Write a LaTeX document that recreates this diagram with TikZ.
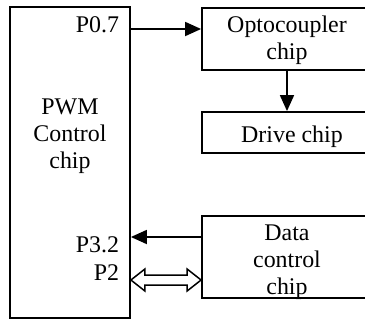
\documentclass[tikz,border=0pt]{standalone}
\usepackage{fontspec}
\setmainfont{Liberation Serif}
\usetikzlibrary{arrows.meta,calc}

\begin{document}
\begin{tikzpicture}[x=1bp,y=-1bp,line width=1.8bp,
  >={Triangle[length=16bp,width=14bp]},
  chipbox/.style={draw,rectangle,inner sep=0pt},
  txt/.style={align=center,inner sep=0pt,font=\fontsize{24}{27}\selectfont}]
\clip (0,0) rectangle (365,320);
% chip boxes
\node[chipbox,minimum width=120bp,minimum height=311bp] (ctrl) at (70,162.5) {};
\node[chipbox,minimum width=170bp,minimum height=62bp] (opto) at (287,39) {};
\node[chipbox,minimum width=170bp,minimum height=41bp] (drive) at (287,132.5) {};
\node[chipbox,minimum width=170bp,minimum height=82bp] (data) at (287,257) {};
% texts
\node[txt] (ctrltext) at (70,136) {PWM\\Control\\chip};
\node[txt] (optotext) at (287,40) {Optocoupler\\chip};
\node[txt] (drivetext) at (292,137) {Drive chip};
\node[txt] (datatext) at (287,262) {Data\\control\\chip};
\node[txt,anchor=base east] (p07) at (120,32) {P0.7};
\node[txt,anchor=base east] (p32) at (120,252) {P3.2};
\node[txt,anchor=base east] (p2) at (120,280) {P2};
% signal arrows
\draw[->] (ctrl.east |- 0,29) -- (opto.west |- 0,29);
\draw[->] (opto.south) -- (drive.north);
\draw[->] (data.west |- 0,237) -- (ctrl.east |- 0,237);
% bus arrow P2
\coordinate (busl) at (ctrl.east |- 0,280);
\coordinate (busr) at (data.west |- 0,280);
\draw[line width=1.5bp] (busl) -- ++(14,-11) -- ++(0,6) -- ($(busr)+(-14,-5)$)
  -- ++(0,-6) -- (busr) -- ++(-14,11) -- ++(0,-6) -- ($(busl)+(14,5)$)
  -- ++(0,6) -- cycle;
\end{tikzpicture}
\end{document}
